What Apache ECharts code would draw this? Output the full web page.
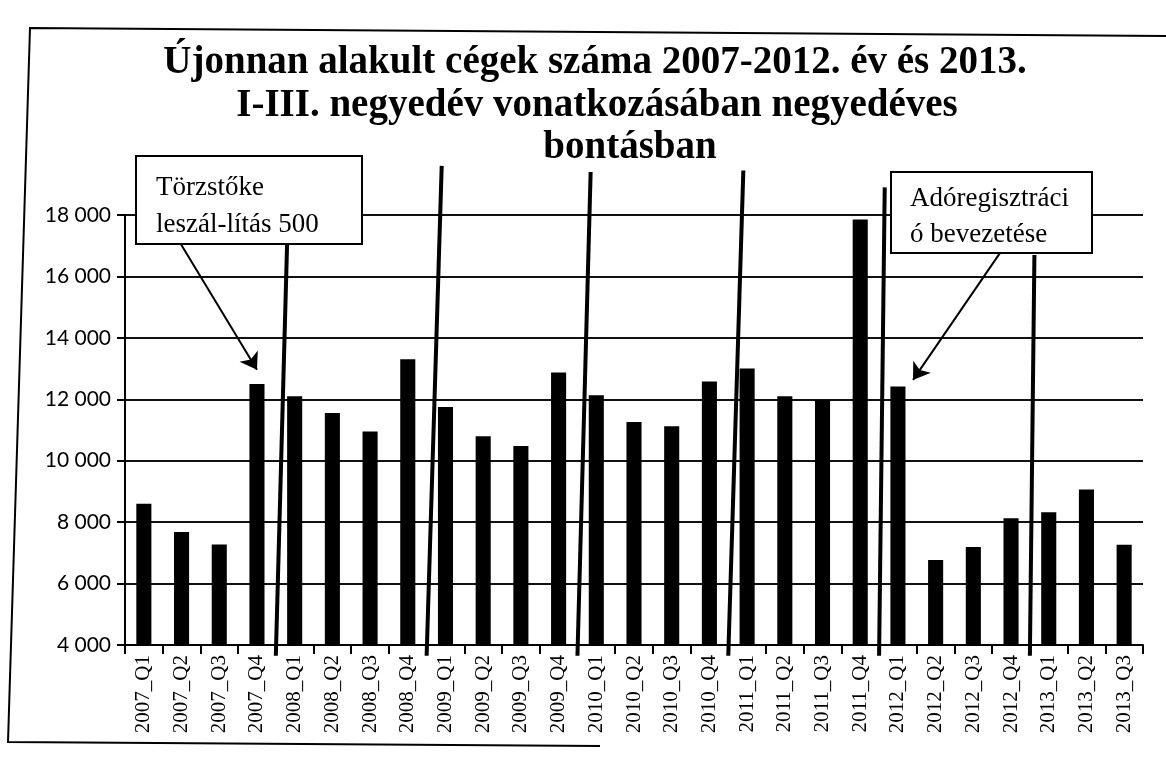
<!DOCTYPE html>
<html><head><meta charset="utf-8">
<script src="https://cdn.jsdelivr.net/npm/echarts@6/dist/echarts.min.js"></script>
<style>html,body{margin:0;padding:0;background:#fff}#c{width:1166px;height:777px}</style>
</head><body><div id="c"></div>
<script>
// ---- data ----
const categories = ['2007_Q1','2007_Q2','2007_Q3','2007_Q4','2008_Q1','2008_Q2','2008_Q3','2008_Q4',
  '2009_Q1','2009_Q2','2009_Q3','2009_Q4','2010_Q1','2010_Q2','2010_Q3','2010_Q4',
  '2011_Q1','2011_Q2','2011_Q3','2011_Q4','2012_Q1','2012_Q2','2012_Q3','2012_Q4',
  '2013_Q1','2013_Q2','2013_Q3'];
const values = [8600, 7680, 7270, 12500, 12100, 11550, 10950, 13300,
  11750, 10800, 10480, 12870, 12130, 11260, 11120, 12580,
  13000, 12100, 11970, 17850, 12420, 6770, 7190, 8130,
  8320, 9060, 7260];
const yMin = 4000, yMax = 18000, yStep = 2000;
// hand-drawn year separators (category boundary index, top value, slight lean at top)
const separatorPos = [4, 8, 12, 16, 20, 24];
const separatorLean = [0.3, 0.4, 0.35, 0.4, 0.15, 0.12];
const separatorTop = [17100, 19600, 19400, 19450, 18900, 16700];
const separatorBottom = 3650;
// annotation arrows (x in category units, y in values)
const arrows = [
  {from: [1.46, 17100], to: [3.5, 12960]},
  {from: [23.2, 16750], to: [20.9, 12630]}
];
const titleLines = ['Újonnan alakult cégek száma 2007-2012. év és 2013.',
  'I-III. negyedév vonatkozásában negyedéves', 'bontásban'];
const notes = ['Törzstőke\nleszál-lítás 500', 'Adóregisztráci\nó bevezetése'];

const chart = echarts.init(document.getElementById('c'), null, {renderer: 'canvas'});
const fmt = v => String(v).replace(/\B(?=(\d{3})+(?!\d))/g, ' ');

const sepSeries = separatorPos.map((p, i) => ({
  type: 'line', xAxisIndex: 1, yAxisIndex: 0, clip: false, silent: true,
  symbol: 'none', z: 5,
  lineStyle: {color: '#000', width: 4},
  data: [[p, separatorBottom], [p + separatorLean[i], separatorTop[i]]],
  markLine: i === 0 ? {
    silent: true, symbol: ['none', 'arrow'], symbolSize: 16,
    label: {show: false},
    lineStyle: {color: '#000', width: 2, type: 'solid'},
    data: arrows.map(a => [{coord: a.from}, {coord: a.to}])
  } : undefined
}));

const serif = '"Liberation Serif", "Times New Roman", serif';

chart.setOption({
  animation: false,
  backgroundColor: '#fff',
  title: [
    {text: titleLines[0], left: 590, top: 38, textAlign: 'center'},
    {text: titleLines[1], left: 592, top: 81, textAlign: 'center'},
    {text: titleLines[2], left: 625, top: 123, textAlign: 'center'}
  ].map(t => Object.assign(t, {textStyle: {fontFamily: serif, fontWeight: 'bold', fontSize: 39, color: '#000'}})),
  grid: {left: 125, right: 23, top: 215, bottom: 132, containLabel: false},
  xAxis: [{
    type: 'category', data: categories,
    axisLine: {lineStyle: {color: '#000', width: 2}},
    axisTick: {show: true, length: 9, lineStyle: {color: '#000', width: 2}},
    axisLabel: {rotate: 90, interval: 0, margin: 10, color: '#000', fontFamily: serif, fontSize: 21}
  }, {
    type: 'value', min: 0, max: categories.length, show: false
  }],
  yAxis: {
    type: 'value', min: yMin, max: yMax, interval: yStep,
    axisLine: {show: true, lineStyle: {color: '#000', width: 2}},
    axisTick: {show: true, length: 8, lineStyle: {color: '#000', width: 2}},
    axisLabel: {formatter: fmt, margin: 14, color: '#000', fontFamily: 'Lato, "Open Sans", sans-serif', fontSize: 21},
    splitLine: {show: true, lineStyle: {color: '#111', width: 2}}
  },
  series: [{
    type: 'bar', data: values, barWidth: '40%',
    itemStyle: {color: '#000'}, z: 3
  }].concat(sepSeries),
  graphic: [
    {type: 'polyline', shape: {points: [[1170, 36], [30, 28], [8, 742], [600, 746]]},
     style: {stroke: '#000', lineWidth: 2, fill: null}, z: 100},
    {type: 'rect', shape: {x: 136, y: 156, width: 226, height: 88},
     style: {fill: '#fff', stroke: '#000', lineWidth: 2}, z: 100},
    {type: 'text', x: 156, y: 169,
     style: {text: notes[0], font: '27px ' + serif, lineHeight: 37, fill: '#000'}, z: 101},
    {type: 'rect', shape: {x: 891, y: 172, width: 201, height: 81},
     style: {fill: '#fff', stroke: '#000', lineWidth: 2}, z: 100},
    {type: 'text', x: 910, y: 181,
     style: {text: notes[1], font: '27px ' + serif, lineHeight: 36, fill: '#000'}, z: 101}
  ]
});
</script></body></html>
